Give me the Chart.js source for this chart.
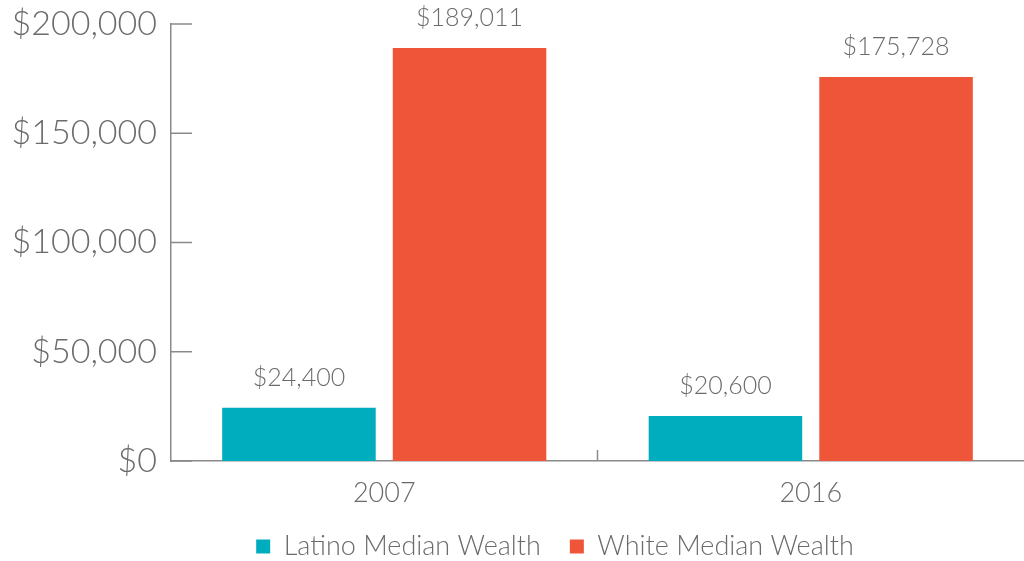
<!DOCTYPE html>
<html>
<head>
<meta charset="utf-8">
<script src="https://cdn.jsdelivr.net/npm/chart.js@4.4.1/dist/chart.umd.min.js"></script>
<style>
  html, body { margin: 0; padding: 0; background: #fff; }
  #wrap { width: 1024px; height: 561px; }
</style>
</head>
<body>
<div id="wrap"><canvas id="graphWealth"></canvas></div>
<script>
// dados
var anos = ['2007', '2016'];
var latino = [24400, 20600];
var white = [189011, 175728];
var yTicks = [0, 50000, 100000, 150000, 200000];

var cinza = '#6b6b6b';
var fonte = 'Lato, "Open Sans", sans-serif';

function money(v) {
  return '$' + v.toLocaleString('en-US');
}

// desenha os tracinhos do eixo para dentro e os valores em cima das barras
var extras = {
  id: 'extras',
  afterLayout: function (chart) {
    // legenda um pouco deslocada para a direita, como no original
    var lg = chart.legend;
    if (lg) {
      lg.left += 43;
      lg.right += 43;
    }
  },
  afterDraw: function (chart) {
    var ctx = chart.ctx;
    var y = chart.scales.y;
    var x = chart.scales.x;
    ctx.save();
    ctx.strokeStyle = '#8a8a8a';
    ctx.lineWidth = 1.5;
    yTicks.forEach(function (t) {
      var py = y.getPixelForValue(t);
      ctx.beginPath();
      ctx.moveTo(x.left, py);
      ctx.lineTo(x.left + 21, py);
      ctx.stroke();
    });
    for (var i = 1; i < anos.length; i++) {
      var px = (x.getPixelForValue(i - 1) + x.getPixelForValue(i)) / 2;
      ctx.beginPath();
      ctx.moveTo(px, y.bottom);
      ctx.lineTo(px, y.bottom - 11);
      ctx.stroke();
    }

    ctx.fillStyle = cinza;
    ctx.font = '300 25px ' + fonte;
    ctx.textAlign = 'center';
    ctx.textBaseline = 'middle';
    chart.data.datasets.forEach(function (ds, di) {
      chart.getDatasetMeta(di).data.forEach(function (bar, i) {
        ctx.fillText(money(ds.data[i]), bar.x, bar.y - 30);
      });
    });
    ctx.restore();
  }
};

var ctx = document.getElementById('graphWealth');

new Chart(ctx, {
  type: 'bar',
  data: {
    labels: anos,
    datasets: [
      {
        label: 'Latino Median Wealth',
        data: latino,
        backgroundColor: '#00adbe'
      },
      {
        label: 'White Median Wealth',
        data: white,
        backgroundColor: '#ef5539'
      }
    ]
  },
  options: {
    responsive: true,
    maintainAspectRatio: false,
    animation: false,
    layout: {
      padding: { top: 24, right: 0, bottom: -9, left: 0 }
    },
    plugins: {
      legend: {
        position: 'bottom',
        labels: {
          color: cinza,
          font: { family: fonte, size: 27, weight: 300 },
          boxWidth: 14,
          boxHeight: 14,
          padding: 29
        }
      },
      tooltip: { enabled: false }
    },
    scales: {
      y: {
        min: 0,
        max: 200000,
        afterFit: function (scale) {
          scale.width = 171;
          scale.paddingTop = 0;
          scale.paddingBottom = 0;
        },
        afterBuildTicks: function (scale) {
          scale.ticks = yTicks.map(function (v) { return { value: v }; });
        },
        ticks: {
          color: cinza,
          padding: 14,
          font: { family: fonte, size: 34, weight: 300 },
          callback: function (v) { return money(v); }
        },
        grid: { display: false, drawTicks: false },
        border: { display: true, color: '#8a8a8a', width: 1.5 }
      },
      x: {
        afterFit: function (scale) { scale.height = 43; },
        ticks: {
          color: cinza,
          padding: 19,
          font: { family: fonte, size: 27, weight: 300, lineHeight: 1 }
        },
        grid: { display: false, drawTicks: false },
        border: { display: true, color: '#8a8a8a', width: 1.5 }
      }
    }
  },
  plugins: [extras]
});
</script>
</body>
</html>
